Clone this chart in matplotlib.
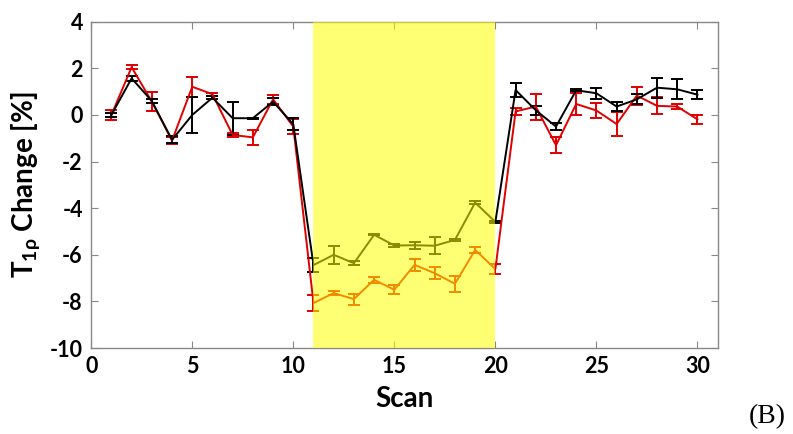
import numpy as np
import matplotlib
matplotlib.use("Agg")
import matplotlib.pyplot as plt

plt.rcParams['font.family'] = ['Lato', 'DejaVu Sans']
plt.rcParams['font.weight'] = 'bold'
plt.rcParams['axes.unicode_minus'] = False
plt.rcParams['mathtext.fontset'] = 'custom'
plt.rcParams['mathtext.rm'] = 'Lato:bold'
plt.rcParams['mathtext.it'] = 'Lato:bold'

scans = np.arange(1, 31)

black_mean = [0.0, 1.57, 0.6, -1.07, 0.0, 0.74, -0.14, -0.14, 0.57, -0.4,
              -6.44, -6.0, -6.36, -5.14, -5.6, -5.59, -5.61, -5.36, -3.76, -4.59,
              1.07, 0.2, -0.5, 1.06, 0.93, 0.36, 0.67, 1.17, 1.1, 0.87]
black_err = [0.1, 0.1, 0.1, 0.15, 0.79, 0.07, 0.71, 0.03, 0.14, 0.25,
             0.3, 0.39, 0.09, 0.03, 0.05, 0.16, 0.37, 0.04, 0.07, 0.06,
             0.29, 0.2, 0.14, 0.05, 0.24, 0.21, 0.21, 0.43, 0.43, 0.2]

red_mean = [0.0, 2.05, 0.57, -1.1, 1.21, 0.89, -0.86, -0.96, 0.67, -0.5,
            -8.07, -7.64, -7.9, -7.07, -7.5, -6.43, -6.79, -7.24, -5.79, -6.61,
            0.15, 0.36, -1.3, 0.47, 0.19, -0.39, 0.83, 0.39, 0.36, -0.19]
red_err = [0.2, 0.1, 0.4, 0.15, 0.43, 0.07, 0.08, 0.32, 0.18, 0.32,
           0.33, 0.1, 0.24, 0.13, 0.2, 0.25, 0.25, 0.34, 0.13, 0.2,
           0.15, 0.56, 0.34, 0.46, 0.34, 0.51, 0.39, 0.36, 0.1, 0.18]

span_start, span_end = 11, 20

fig = plt.figure(figsize=(7.93, 4.34), dpi=100)
ax = fig.add_axes([0.115, 0.198, 0.79, 0.752])

ax.errorbar(scans, red_mean, yerr=red_err, color='#e00000', lw=1.4,
            capsize=4, capthick=1.4, elinewidth=1.4, zorder=2)
ax.errorbar(scans, black_mean, yerr=black_err, color='black', lw=1.4,
            capsize=4, capthick=1.4, elinewidth=1.4, zorder=2)

# translucent yellow drawn on top
ax.axvspan(span_start, span_end, color='#ffff00', alpha=0.55, lw=0, zorder=3)

ax.set_xlim(0, 31)
ax.set_ylim(-10, 4)
ax.set_xticks([0, 5, 10, 15, 20, 25, 30])
ax.set_yticks(np.arange(-10, 5, 2))
ax.tick_params(direction='in', top=True, right=True, labelsize=15.5,
               color='#888888', length=5, pad=6)
for s in ax.spines.values():
    s.set_color('#888888')
    s.set_linewidth(1.0)

ax.set_xlabel('Scan', fontsize=20, fontweight='bold', labelpad=6)
ax.set_ylabel(r'T$_{1\mathrm{\rho}}$ Change [%]', fontsize=20, fontweight='bold', labelpad=6)

fig.text(0.968, 0.04, '(B)', family='Liberation Serif', fontweight='normal',
         fontsize=20, ha='center', va='center')

fig.savefig('out.png', dpi=100)
